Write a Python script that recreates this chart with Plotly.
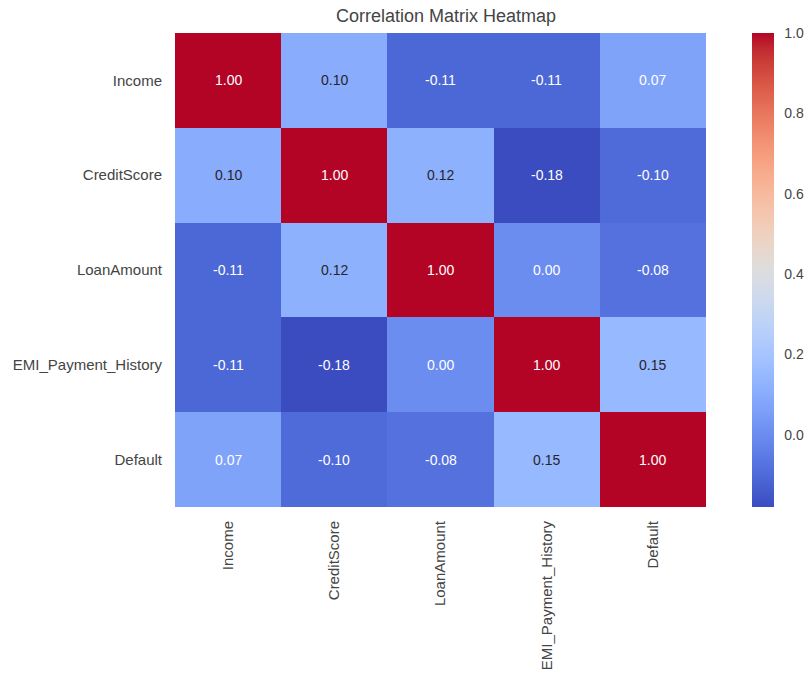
import plotly.graph_objects as go

# Variables of the correlation matrix (row order = column order)
variables = ["Income", "CreditScore", "LoanAmount", "EMI_Payment_History", "Default"]

# Pairwise correlation coefficients, one list per row
income_row = [1.00, 0.10, -0.11, -0.11, 0.07]
creditscore_row = [0.10, 1.00, 0.12, -0.18, -0.10]
loanamount_row = [-0.11, 0.12, 1.00, 0.00, -0.08]
emi_row = [-0.11, -0.18, 0.00, 1.00, 0.15]
default_row = [0.07, -0.10, -0.08, 0.15, 1.00]

corr = [income_row, creditscore_row, loanamount_row, emi_row, default_row]

colorbar_ticks = [0.0, 0.2, 0.4, 0.6, 0.8, 1.0]

# Diverging blue-white-red palette (coolwarm)
coolwarm_rgb = [
    (59, 76, 192), (68, 90, 204), (77, 104, 215), (87, 117, 225),
    (98, 130, 234), (108, 142, 241), (119, 154, 247), (130, 165, 251),
    (141, 176, 254), (152, 185, 255), (163, 194, 255), (174, 201, 253),
    (184, 208, 249), (194, 213, 244), (204, 217, 238), (213, 219, 230),
    (221, 221, 221), (229, 216, 209), (236, 211, 197), (241, 204, 184),
    (245, 196, 172), (247, 187, 160), (247, 177, 148), (247, 166, 135),
    (244, 154, 123), (241, 141, 111), (236, 127, 99), (229, 112, 88),
    (222, 96, 77), (213, 80, 66), (203, 62, 56), (192, 40, 47),
    (180, 4, 38),
]
n = len(coolwarm_rgb)
colorscale = [[i / (n - 1), "rgb(%d,%d,%d)" % c] for i, c in enumerate(coolwarm_rgb)]

zmin = min(min(r) for r in corr)
zmax = max(max(r) for r in corr)

FONT = "Liberation Sans, Arial, sans-serif"
TEXT_GRAY = "#444444"

fig = go.Figure(
    go.Heatmap(
        z=corr,
        x=variables,
        y=variables,
        colorscale=colorscale,
        zmin=zmin,
        zmax=zmax,
        xgap=0,
        ygap=0,
        hoverinfo="skip",
        colorbar=dict(
            tickmode="array",
            tickvals=colorbar_ticks,
            tickformat=".1f",
            thickness=22,
            len=1.0,
            lenmode="fraction",
            y=0.5,
            yanchor="middle",
            x=(752 - 175) / 531,
            xanchor="left",
            xpad=0,
            ypad=0,
            outlinewidth=0,
            ticks="outside",
            ticklen=8,
            tickcolor="rgba(0,0,0,0)",
            tickfont=dict(family=FONT, size=14, color=TEXT_GRAY),
        ),
    )
)


def label_color(v):
    # light cells get dark text, saturated cells get white text
    return "#262626" if 0.09 <= v <= 0.6 else "#ffffff"


for i, row_name in enumerate(variables):
    for j, col_name in enumerate(variables):
        v = corr[i][j]
        fig.add_annotation(
            x=col_name,
            y=row_name,
            text="%.2f" % v,
            showarrow=False,
            font=dict(family=FONT, size=14, color=label_color(v)),
        )

fig.update_layout(
    width=809,
    height=685,
    margin=dict(l=175, r=103, t=33, b=178, autoexpand=False),
    paper_bgcolor="white",
    plot_bgcolor="white",
    title=dict(
        text="Correlation Matrix Heatmap",
        x=446 / 809,
        xanchor="center",
        y=1 - 16 / 685,
        yanchor="middle",
        font=dict(family=FONT, size=18, color=TEXT_GRAY),
    ),
    xaxis=dict(
        tickangle=-90,
        showgrid=False,
        zeroline=False,
        showline=False,
        ticks="",
        ticklabelstandoff=10,
        tickfont=dict(family=FONT, size=15, color=TEXT_GRAY),
    ),
    yaxis=dict(
        autorange="reversed",
        showgrid=False,
        zeroline=False,
        showline=False,
        ticks="",
        ticklabelstandoff=12,
        tickfont=dict(family=FONT, size=15, color=TEXT_GRAY),
    ),
)

fig.write_html("out.html")
